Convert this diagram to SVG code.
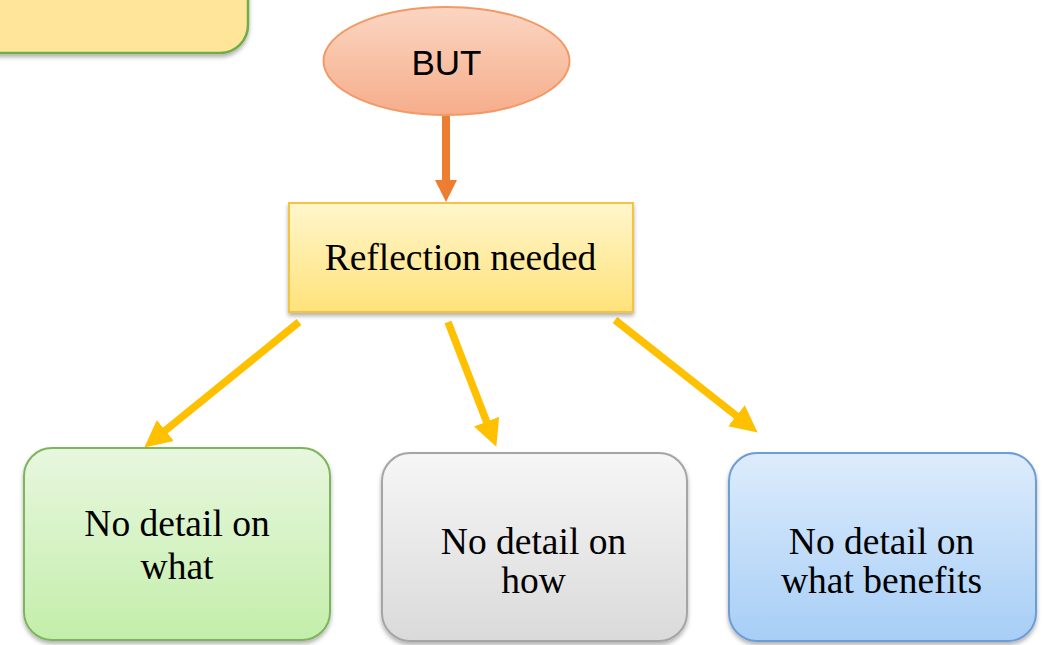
<svg xmlns="http://www.w3.org/2000/svg" width="1043" height="645" viewBox="0 0 1043 645">
  <defs>
    <style>
      .serif { font-family: "Liberation Serif", "Times New Roman", serif; font-size: 37.5px; fill: #000; text-anchor: middle; }
      .sans { font-family: "Liberation Sans", Arial, sans-serif; font-size: 35px; fill: #000; text-anchor: middle; }
      .link { fill: none; stroke: #FFC000; stroke-width: 7.5; }
      .link-top { fill: none; stroke: #ED7D31; stroke-width: 8; }
    </style>
    <filter id="shadow" x="-10%" y="-10%" width="120%" height="130%">
      <feDropShadow dx="0" dy="3" stdDeviation="2" flood-color="#000" flood-opacity="0.3"/>
    </filter>
    <linearGradient id="gOrange" x1="0" y1="0" x2="0" y2="1">
      <stop offset="0" stop-color="#FBD6C2"/>
      <stop offset="1" stop-color="#F6AD8B"/>
    </linearGradient>
    <linearGradient id="gYellow" x1="0" y1="0" x2="0" y2="1">
      <stop offset="0" stop-color="#FFF6CC"/>
      <stop offset="1" stop-color="#FFE27A"/>
    </linearGradient>
    <linearGradient id="gGreen" x1="0" y1="0" x2="0" y2="1">
      <stop offset="0" stop-color="#E8F7DF"/>
      <stop offset="1" stop-color="#C3EEAA"/>
    </linearGradient>
    <linearGradient id="gGray" x1="0" y1="0" x2="0" y2="1">
      <stop offset="0" stop-color="#F6F6F6"/>
      <stop offset="1" stop-color="#DADADA"/>
    </linearGradient>
    <linearGradient id="gBlue" x1="0" y1="0" x2="0" y2="1">
      <stop offset="0" stop-color="#DDECFC"/>
      <stop offset="1" stop-color="#A7CEF6"/>
    </linearGradient>
    <marker id="headYellow" viewBox="0 0 10 10" refX="2.3" refY="5" markerWidth="27" markerHeight="30" markerUnits="userSpaceOnUse" orient="auto">
      <path d="M0,0 L10,5 L0,10 Z" fill="#FFC000"/>
    </marker>
    <marker id="headOrange" viewBox="0 0 10 10" refX="1.8" refY="5" markerWidth="22" markerHeight="25" markerUnits="userSpaceOnUse" orient="auto">
      <path d="M0,0 L10,5 L0,10 Z" fill="#ED7D31"/>
    </marker>
  </defs>

  <rect width="1043" height="645" fill="#FFFFFF"/>

  <!-- partial box at the top-left edge -->
  <g id="corner-box">
    <rect x="-30" y="-60" width="278" height="113" rx="28" fill="#FEE599" stroke="#70AD47" stroke-width="2.5" filter="url(#shadow)"/>
  </g>

  <!-- connectors -->
  <g id="connectors">
    <line class="link-top" x1="446" y1="116" x2="446" y2="184" marker-end="url(#headOrange)"/>
    <line class="link" x1="299" y1="322" x2="160.5" y2="434.4" marker-end="url(#headYellow)"/>
    <line class="link" x1="448" y1="322" x2="488.8" y2="427.4" marker-end="url(#headYellow)"/>
    <line class="link" x1="615" y1="320" x2="741.3" y2="419.6" marker-end="url(#headYellow)"/>
  </g>

  <g id="but">
    <ellipse cx="446.5" cy="61" rx="123" ry="54" fill="url(#gOrange)" stroke="#F29A66" stroke-width="2"/>
    <text class="sans" x="446.5" y="75">BUT</text>
  </g>

  <g id="reflection">
    <rect x="289" y="203" width="344" height="109" fill="url(#gYellow)" stroke="#F5C342" stroke-width="2" filter="url(#shadow)"/>
    <text class="serif" x="460.5" y="270">Reflection needed</text>
  </g>

  <g id="what">
    <rect x="24" y="448" width="306" height="192" rx="28" fill="url(#gGreen)" stroke="#7FB45E" stroke-width="2" filter="url(#shadow)"/>
    <text class="serif" x="177" y="536">No detail on</text>
    <text class="serif" x="177" y="579">what</text>
  </g>

  <g id="how">
    <rect x="382" y="453" width="305" height="188" rx="28" fill="url(#gGray)" stroke="#A5A5A5" stroke-width="2" filter="url(#shadow)"/>
    <text class="serif" x="533.5" y="554">No detail on</text>
    <text class="serif" x="533.5" y="593">how</text>
  </g>

  <g id="benefits">
    <rect x="729" y="453" width="307" height="188" rx="28" fill="url(#gBlue)" stroke="#6D9DD6" stroke-width="2" filter="url(#shadow)"/>
    <text class="serif" x="881.5" y="554">No detail on</text>
    <text class="serif" x="881.5" y="593">what benefits</text>
  </g>
</svg>
